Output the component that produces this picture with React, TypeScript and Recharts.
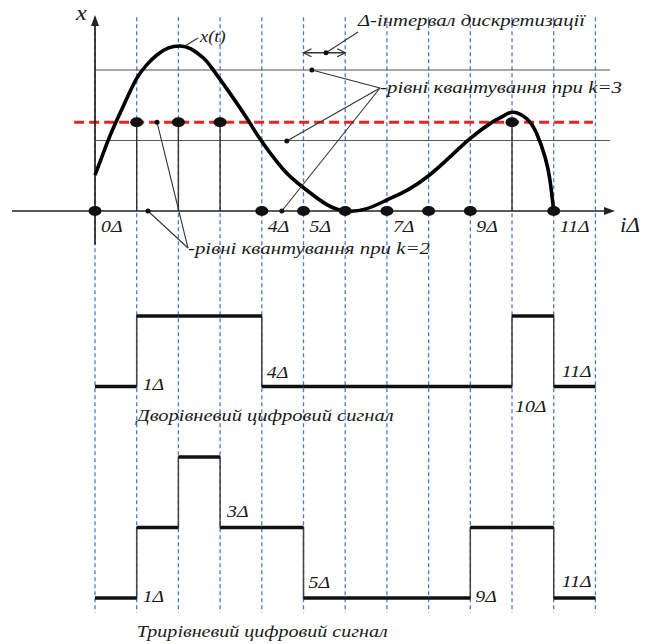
import { ComposedChart, Line, XAxis, YAxis, ReferenceLine, ReferenceDot } from 'recharts';

// x is in units of the sampling interval Δ, y in units of one k=3 quantization step
const SAMPLE_IDX = [0, 1, 2, 3, 4, 5, 6, 7, 8, 9, 10, 11];
const GRID_IDX = [0, 1, 2, 3, 4, 5, 6, 7, 8, 9, 10, 11, 12];

// continuous signal x(t)
const CURVE_T = [0, 0.3, 0.5, 0.75, 1.0, 1.25, 1.5, 1.75, 2.03, 2.3, 2.6, 2.8, 3.2, 3.68, 3.96, 4.5, 5.0, 5.56, 6.02, 6.5, 7.0, 7.5, 8.0, 8.5, 9.0, 9.5, 9.8, 10.03, 10.35, 10.59, 10.79, 10.91, 11.0];
const CURVE_X = [0.51, 0.98, 1.26, 1.58, 1.88, 2.08, 2.22, 2.31, 2.34, 2.3, 2.17, 2.03, 1.7, 1.28, 1.02, 0.6, 0.33, 0.09, 0, 0.03, 0.156, 0.3, 0.5, 0.76, 1.03, 1.25, 1.35, 1.4, 1.31, 1.1, 0.77, 0.44, 0];

const LEVEL_K2 = 1.26; // red dashed quantization level for k=2
const LEVELS_K3 = [1, 2];

const TWO_LEVEL = [0, 1, 1, 1, 0, 0, 0, 0, 0, 0, 1, 0];
const THREE_LEVEL = [0, 1, 2, 1, 1, 0, 0, 0, 0, 1, 1, 0];

const TOP_TICKS = [0, 4, 5, 7, 9, 11];
const MID_TICKS = [1, 4, 10, 11];
const BOT_TICKS = [1, 3, 5, 9, 11];

// layout
const W = 646;
const H = 644;
const X_DOMAIN: [number, number] = [-2.278, 13.213];
const Y_DOMAIN: [number, number] = [-6.142, 2.993];
const MID_BASE = -2.49;
const BOT_BASE = -5.489;
const GRID_TOP = 2.75;
const GRID_BOTTOM = -5.7;
const MID_TICK_OFF = [[6, 3], [5, -8.5], [3, 25.5], [8, -9.5]];
const BOT_TICK_OFF = [[6, 4.5], [7, -80.5], [5, -9.5], [5, 4.5], [8, -10.5]];

const FONT = '"Liberation Serif", "Times New Roman", serif';
const INK = '#1a1a1a';

function Txt({ x, y, text, size = 16, sx = 1.24, width }: any) {
  const common = { fontFamily: FONT, fontStyle: 'italic', fontSize: size, fill: INK };
  if (width) {
    return (
      <text x={x} y={y} textLength={width} lengthAdjust="spacingAndGlyphs" {...common}>
        {text}
      </text>
    );
  }
  return (
    <g transform={`translate(${x},${y}) scale(${sx},1)`}>
      <text x={0} y={0} {...common}>
        {text}
      </text>
    </g>
  );
}

function label(key: string, x: number, y: number, text: string, dx: number, dy: number, opts: any = {}) {
  return (
    <ReferenceDot
      key={key}
      x={x}
      y={y}
      r={0}
      fill="none"
      stroke="none"
      shape={(p: any) => <Txt x={p.cx + dx} y={p.cy + dy} text={text} {...opts} />}
    />
  );
}

function ArrowShape(p: any) {
  const { x1, y1, x2, y2 } = p;
  const len = Math.hypot(x2 - x1, y2 - y1) || 1;
  const ux = (x2 - x1) / len;
  const uy = (y2 - y1) / len;
  const bx = x2 - ux * 11;
  const by = y2 - uy * 11;
  return (
    <g>
      <line x1={x1} y1={y1} x2={bx} y2={by} stroke="#222" strokeWidth={1.7} />
      <polygon points={`${x2},${y2} ${bx - uy * 4},${by + ux * 4} ${bx + uy * 4},${by - ux * 4}`} fill="#222" />
    </g>
  );
}

function DoubleArrowShape(p: any) {
  const { x1, y1, x2, y2 } = p;
  return (
    <g stroke="#333" strokeWidth={1.3} fill="none">
      <line x1={x1} y1={y1} x2={x2} y2={y2} />
      <polyline points={`${x1 + 8},${y1 - 4} ${x1},${y1} ${x1 + 8},${y1 + 4}`} />
      <polyline points={`${x2 - 8},${y2 - 4} ${x2},${y2} ${x2 - 8},${y2 + 4}`} />
    </g>
  );
}

function leader(key: string, a: [number, number], b: [number, number]) {
  return (
    <ReferenceLine
      key={key}
      segment={[{ x: a[0], y: a[1] }, { x: b[0], y: b[1] }]}
      stroke="#333"
      strokeWidth={1.1}
    />
  );
}

function pin(key: string, x: number, y: number) {
  return <ReferenceDot key={key} x={x} y={y} r={2.5} fill="#111" stroke="none" />;
}

const curveData = CURVE_T.map((t, i) => ({ x: t, y: CURVE_X[i] }));
const sampleData = SAMPLE_IDX.map((i) => ({ x: i, y: TWO_LEVEL[i] * LEVEL_K2 }));
const stepData = (levels: number[], base: number) =>
  [...levels, levels[levels.length - 1]].map((v, i) => ({ x: i, y: base + v }));

function SampleDot(p: any) {
  return <ellipse key={`s${p.index}`} cx={p.cx} cy={p.cy} rx={6.5} ry={5} fill="#111" />;
}

export default function App() {
  return (
    <div style={{ position: 'absolute', left: 0, top: 0, width: W, height: H, background: '#fff' }}>
      <ComposedChart width={W} height={H} margin={{ top: 0, right: 0, bottom: 0, left: 0 }}>
        <XAxis type="number" dataKey="x" domain={X_DOMAIN} allowDataOverflow hide />
        <YAxis type="number" dataKey="y" domain={Y_DOMAIN} allowDataOverflow hide />

        {GRID_IDX.map((i) => (
          <ReferenceLine
            key={`g${i}`}
            segment={[{ x: i, y: GRID_TOP }, { x: i, y: GRID_BOTTOM }]}
            stroke="#4a7bd0"
            strokeWidth={1.3}
            strokeDasharray="4 3"
          />
        ))}

        {LEVELS_K3.map((v) => (
          <ReferenceLine key={`k3${v}`} segment={[{ x: 0, y: v }, { x: 12.35, y: v }]} stroke="#555" strokeWidth={1.2} />
        ))}
        <ReferenceLine
          segment={[{ x: -0.5, y: LEVEL_K2 }, { x: 11.94, y: LEVEL_K2 }]}
          stroke="#e8251f"
          strokeWidth={3}
          strokeDasharray="10 5"
        />

        <ReferenceLine segment={[{ x: -1.99, y: 0 }, { x: 12.47, y: 0 }]} shape={ArrowShape} />
        <ReferenceLine segment={[{ x: 0, y: -0.48 }, { x: 0, y: 2.78 }]} shape={ArrowShape} />

        {SAMPLE_IDX.filter((i) => TWO_LEVEL[i]).map((i) => (
          <ReferenceLine
            key={`st${i}`}
            segment={[{ x: i, y: 0 }, { x: i, y: LEVEL_K2 }]}
            stroke="#333"
            strokeWidth={1.4}
          />
        ))}

        <Line data={curveData} dataKey="y" type="natural" stroke="#000" strokeWidth={3.6} dot={false} activeDot={false} isAnimationActive={false} />
        <Line data={sampleData} dataKey="y" stroke="none" dot={SampleDot} activeDot={false} isAnimationActive={false} />

        {/* digital signals: thin edges, thick levels */}
        <Line data={stepData(TWO_LEVEL, MID_BASE)} dataKey="y" type="stepAfter" stroke="#444" strokeWidth={1.5} dot={false} activeDot={false} isAnimationActive={false} />
        <Line data={stepData(THREE_LEVEL, BOT_BASE)} dataKey="y" type="stepAfter" stroke="#444" strokeWidth={1.5} dot={false} activeDot={false} isAnimationActive={false} />
        {TWO_LEVEL.map((v, i) => (
          <ReferenceLine key={`m${i}`} segment={[{ x: i, y: MID_BASE + v }, { x: i + 1, y: MID_BASE + v }]} stroke="#111" strokeWidth={3.5} />
        ))}
        {THREE_LEVEL.map((v, i) => (
          <ReferenceLine key={`b${i}`} segment={[{ x: i, y: BOT_BASE + v }, { x: i + 1, y: BOT_BASE + v }]} stroke="#111" strokeWidth={3.5} />
        ))}

        {/* annotations */}
        {leader('lxt', [2.158, 2.34], [2.47, 2.454])}
        {label('txt', 2.47, 2.454, 'x(t)', 2, 4, { sx: 1.15 })}

        <ReferenceLine segment={[{ x: 5, y: 2.245 }, { x: 6, y: 2.245 }]} shape={DoubleArrowShape} />
        {pin('pd', 5.54, 2.245)}
        {leader('ld', [5.54, 2.245], [6.307, 2.539])}
        {label('tdelta', 6.307, 2.539, 'Δ-інтервал дискретизації', 0, -6, { width: 227 })}

        {leader('l31', [6.835, 1.745], [5.2, 2.0])}
        {leader('l32', [6.835, 1.745], [4.6, 0.993])}
        {leader('l33', [6.835, 1.745], [4.48, 0])}
        {pin('p31', 5.2, 2.0)}
        {pin('p32', 4.6, 0.993)}
        {pin('p33', 4.48, 0)}
        {label('tk3', 6.835, 1.745, '-рівні квантування при k=3', 0, 5, { width: 242 })}

        {leader('l21', [2.23, -0.525], [1.487, LEVEL_K2])}
        {leader('l22', [2.23, -0.525], [1.271, 0])}
        {pin('p21', 1.487, LEVEL_K2)}
        {pin('p22', 1.271, 0)}
        {label('tk2', 2.23, -0.525, '-рівні квантування при k=2', 0, 6, { width: 242 })}

        {label('tx', 0, 2.78, 'x', -19, 5, { size: 22, sx: 1.1 })}
        {label('tid', 12.47, 0, 'iΔ', 5, 21, { size: 20, sx: 1.15 })}

        {TOP_TICKS.map((i) => label(`tt${i}`, i, 0, `${i}Δ`, 6, 21))}
        {MID_TICKS.map((i, k) => label(`mt${i}`, i, MID_BASE, `${i}Δ`, MID_TICK_OFF[k][0], MID_TICK_OFF[k][1]))}
        {BOT_TICKS.map((i, k) => label(`bt${i}`, i, BOT_BASE, `${i}Δ`, BOT_TICK_OFF[k][0], BOT_TICK_OFF[k][1]))}

        {label('cap2', 1, MID_BASE, 'Дворівневий цифровий сигнал', 0, 34, { width: 257 })}
        {label('cap3', 1, BOT_BASE, 'Трирівневий цифровий сигнал', 0, 39, { width: 251 })}
      </ComposedChart>
    </div>
  );
}
